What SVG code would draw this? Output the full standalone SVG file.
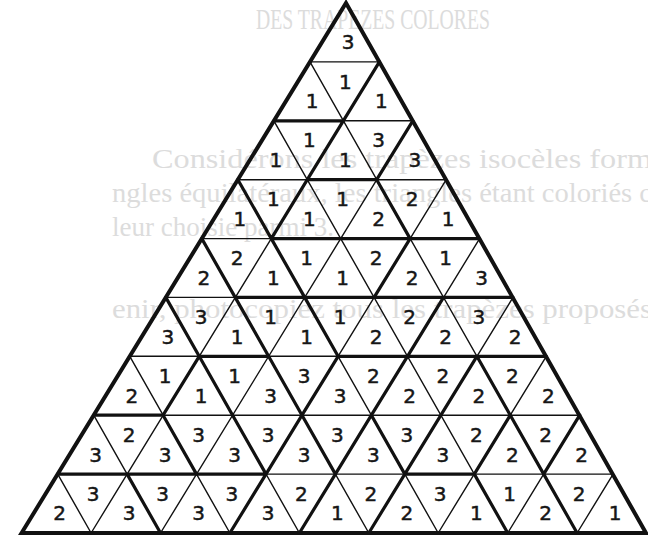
<svg xmlns="http://www.w3.org/2000/svg" width="648" height="537" viewBox="0 0 648 537">
<style>
.bg{fill:#fff}
.ghost{fill:#dcdcdc;font-family:"Liberation Serif",serif}
.thin{fill:none;stroke:#111;stroke-width:1.4;stroke-linecap:butt}
.thick{fill:none;stroke:#111;stroke-width:3.2;stroke-linecap:round}
.outer{fill:none;stroke:#111;stroke-width:4;stroke-linejoin:miter}
.n{font-family:"DejaVu Sans",sans-serif;font-size:20px;fill:#161616;stroke:#161616;stroke-width:0.5;text-anchor:middle}
</style>
<rect class="bg" x="0" y="0" width="648" height="537"/>
<g id="show-through">
<text class="ghost" x="256" y="29" font-size="30" textLength="234" lengthAdjust="spacingAndGlyphs">DES TRAPEZES COLORES</text>
<text class="ghost" x="152" y="168" font-size="27" textLength="500" lengthAdjust="spacingAndGlyphs">Considérons les trapèzes isocèles form</text>
<text class="ghost" x="112" y="202" font-size="27" textLength="540" lengthAdjust="spacingAndGlyphs">ngles équilatéraux, les triangles étant coloriés c</text>
<text class="ghost" x="112" y="236" font-size="27">leur choisie parmi 3.</text>
<text class="ghost" x="112" y="318" font-size="27" textLength="540" lengthAdjust="spacingAndGlyphs">enir, photocopiez tous les trapèzes proposés</text>
</g>
<g id="grid">
<path class="thin" d="M310.0 61.9H379.4M273.9 120.8H412.8M237.9 179.7H446.2M201.8 238.6H479.6M165.8 297.4H513.0M129.8 356.3H546.3M93.7 415.2H579.7M57.7 474.1H613.1
M379.4 61.9L91.1 533M412.8 120.8L160.5 533M446.2 179.7L229.9 533M479.6 238.6L299.4 533M513.0 297.4L368.8 533M546.3 356.3L438.2 533M579.7 415.2L507.7 533M613.1 474.1L577.1 533
M310.0 61.9L577.1 533M273.9 120.8L507.7 533M237.9 179.7L438.2 533M201.8 238.6L368.8 533M165.8 297.4L299.4 533M129.8 356.3L229.9 533M93.7 415.2L160.5 533M57.7 474.1L91.1 533"/>
<path class="thick" d="M273.9 120.8H343.3M307.3 179.7H376.7M271.3 238.6H479.6M235.2 297.4H513.0M199.2 356.3H268.6M338.1 356.3H546.3M93.7 415.2H163.1M57.7 474.1H266.0M404.8 474.1H474.3
M379.4 61.9L343.3 120.8M343.3 120.8L307.3 179.7M412.8 120.8L376.7 179.7
M237.9 179.7L271.3 238.6M307.3 179.7L271.3 238.6M376.7 179.7L410.1 238.6
M201.8 238.6L235.2 297.4M271.3 238.6L304.7 297.4M410.1 238.6L374.1 297.4
M165.8 297.4L199.2 356.3M235.2 297.4L268.6 356.3M304.7 297.4L338.1 356.3M443.5 297.4L407.5 356.3
M199.2 356.3L163.1 415.2M199.2 356.3L232.6 415.2M268.6 356.3L302.0 415.2M338.1 356.3L302.0 415.2M407.5 356.3L371.4 415.2M476.9 356.3L440.9 415.2M476.9 356.3L510.3 415.2
M163.1 415.2L196.5 474.1M232.6 415.2L266.0 474.1M302.0 415.2L266.0 474.1M302.0 415.2L335.4 474.1M371.4 415.2L335.4 474.1M371.4 415.2L404.8 474.1M440.9 415.2L404.8 474.1M510.3 415.2L474.3 474.1M510.3 415.2L543.7 474.1M579.7 415.2L543.7 474.1
M127.1 474.1L160.5 533M266.0 474.1L229.9 533M335.4 474.1L299.4 533M404.8 474.1L368.8 533M474.3 474.1L507.7 533M543.7 474.1L577.1 533"/>
<path id="outline" class="outer" d="M346 3L646 533H21.6Z"/>
</g>
<g id="numbers">
<text class="n" x="348" y="49.3">3</text>
<text class="n" x="312" y="108.2">1</text><text class="n" x="345.3" y="88.5">1</text><text class="n" x="381.4" y="108.2">1</text>
<text class="n" x="275.9" y="167.1">1</text><text class="n" x="309.3" y="147.4">1</text><text class="n" x="345.3" y="167.1">1</text><text class="n" x="378.7" y="147.4">3</text><text class="n" x="414.8" y="167.1">3</text>
<text class="n" x="239.9" y="226">1</text><text class="n" x="273.3" y="206.3">1</text><text class="n" x="309.3" y="226">1</text><text class="n" x="342.7" y="206.3">1</text><text class="n" x="378.7" y="226">2</text><text class="n" x="412.1" y="206.3">2</text><text class="n" x="448.2" y="226">1</text>
<text class="n" x="203.8" y="284.9">2</text><text class="n" x="237.2" y="265.2">2</text><text class="n" x="273.3" y="284.9">1</text><text class="n" x="306.7" y="265.2">1</text><text class="n" x="342.7" y="284.9">1</text><text class="n" x="376.1" y="265.2">2</text><text class="n" x="412.1" y="284.9">2</text><text class="n" x="445.5" y="265.2">1</text><text class="n" x="481.6" y="284.9">3</text>
<text class="n" x="167.8" y="343.7">3</text><text class="n" x="201.2" y="324">3</text><text class="n" x="237.2" y="343.7">1</text><text class="n" x="270.6" y="324">1</text><text class="n" x="306.7" y="343.7">1</text><text class="n" x="340.1" y="324">1</text><text class="n" x="376.1" y="343.7">2</text><text class="n" x="409.5" y="324">2</text><text class="n" x="445.5" y="343.7">2</text><text class="n" x="478.9" y="324">3</text><text class="n" x="515" y="343.7">2</text>
<text class="n" x="131.8" y="402.6">2</text><text class="n" x="165.1" y="382.9">1</text><text class="n" x="201.2" y="402.6">1</text><text class="n" x="234.6" y="382.9">1</text><text class="n" x="270.6" y="402.6">3</text><text class="n" x="304" y="382.9">3</text><text class="n" x="340.1" y="402.6">3</text><text class="n" x="373.4" y="382.9">2</text><text class="n" x="409.5" y="402.6">2</text><text class="n" x="442.9" y="382.9">2</text><text class="n" x="478.9" y="402.6">2</text><text class="n" x="512.3" y="382.9">2</text><text class="n" x="548.3" y="402.6">2</text>
<text class="n" x="95.7" y="461.5">3</text><text class="n" x="129.1" y="441.8">2</text><text class="n" x="165.1" y="461.5">3</text><text class="n" x="198.5" y="441.8">3</text><text class="n" x="234.6" y="461.5">3</text><text class="n" x="268" y="441.8">3</text><text class="n" x="304" y="461.5">3</text><text class="n" x="337.4" y="441.8">3</text><text class="n" x="373.4" y="461.5">3</text><text class="n" x="406.8" y="441.8">3</text><text class="n" x="442.9" y="461.5">3</text><text class="n" x="476.3" y="441.8">2</text><text class="n" x="512.3" y="461.5">2</text><text class="n" x="545.7" y="441.8">2</text><text class="n" x="581.7" y="461.5">2</text>
<text class="n" x="59.7" y="520.4">2</text><text class="n" x="93.1" y="500.7">3</text><text class="n" x="129.1" y="520.4">3</text><text class="n" x="162.5" y="500.7">3</text><text class="n" x="198.5" y="520.4">3</text><text class="n" x="231.9" y="500.7">3</text><text class="n" x="268" y="520.4">3</text><text class="n" x="301.4" y="500.7">2</text><text class="n" x="337.4" y="520.4">1</text><text class="n" x="370.8" y="500.7">2</text><text class="n" x="406.8" y="520.4">2</text><text class="n" x="440.2" y="500.7">3</text><text class="n" x="476.3" y="520.4">1</text><text class="n" x="509.7" y="500.7">1</text><text class="n" x="545.7" y="520.4">2</text><text class="n" x="579.1" y="500.7">2</text><text class="n" x="615.1" y="520.4">1</text>
</g>
</svg>
